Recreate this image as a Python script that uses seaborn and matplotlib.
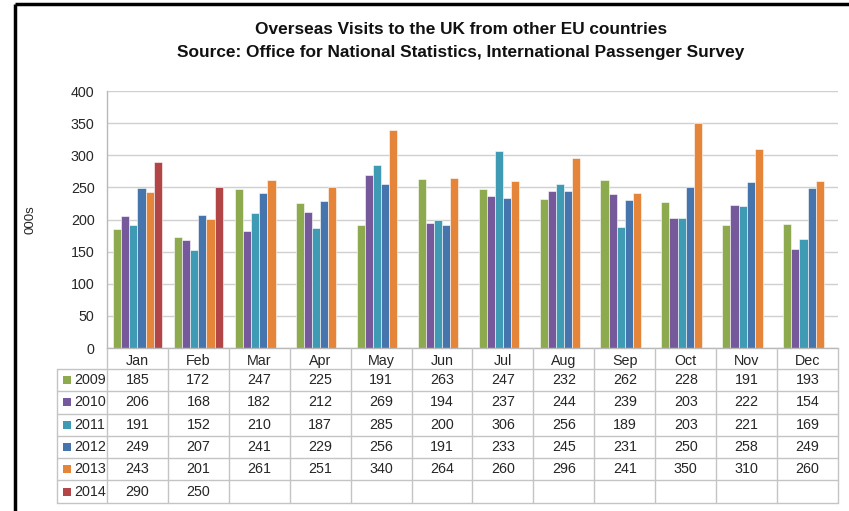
import matplotlib
matplotlib.use("Agg")
import matplotlib.pyplot as plt
import seaborn as sns
import pandas as pd
import numpy as np
from matplotlib.patches import Rectangle

months = ["Jan", "Feb", "Mar", "Apr", "May", "Jun", "Jul", "Aug", "Sep", "Oct", "Nov", "Dec"]
years = ["2009", "2010", "2011", "2012", "2013", "2014"]
v2009 = [185, 172, 247, 225, 191, 263, 247, 232, 262, 228, 191, 193]
v2010 = [206, 168, 182, 212, 269, 194, 237, 244, 239, 203, 222, 154]
v2011 = [191, 152, 210, 187, 285, 200, 306, 256, 189, 203, 221, 169]
v2012 = [249, 207, 241, 229, 256, 191, 233, 245, 231, 250, 258, 249]
v2013 = [243, 201, 261, 251, 340, 264, 260, 296, 241, 350, 310, 260]
v2014 = [290, 250] + [np.nan] * 10
yticks = [0, 50, 100, 150, 200, 250, 300, 350, 400]

colors = ["#8DAA4E", "#76599A", "#3F9AB3", "#4675AE", "#E5853A", "#B24545"]
series = [v2009, v2010, v2011, v2012, v2013, v2014]

rows = []
for yr, vals in zip(years, series):
    for m, v in zip(months, vals):
        rows.append({"month": m, "year": yr, "value": v})
df = pd.DataFrame(rows)

sns.set_theme(style="white")
plt.rcParams['font.family'] = ['Liberation Sans Narrow', 'Liberation Sans', 'DejaVu Sans']

FS = 10.3
TC = "#262626"

W, H = 849, 511
fig = plt.figure(figsize=(W / 100, H / 100), dpi=100)
fig.patch.set_facecolor("white")

def fx(x):
    return x / W

def fy(y):
    return 1 - y / H

ax_l, ax_r, ax_t, ax_b = 107, 838, 91, 348
ax = fig.add_axes([fx(ax_l), fy(ax_b), fx(ax_r) - fx(ax_l), fy(ax_t) - fy(ax_b)])
sns.barplot(data=df, x="month", y="value", hue="year", order=months, hue_order=years,
            palette=colors, width=0.8, ax=ax, legend=False, edgecolor="white",
            linewidth=0.4, saturation=1)
ax.set_ylim(0, 400)
ax.set_xlim(-0.5, 11.5)
ax.set_yticks(yticks)
ax.set_yticklabels([str(t) for t in yticks], fontsize=FS, color=TC)
ax.yaxis.grid(True, color="#D0D0D0", lw=1)
ax.set_axisbelow(True)
for s in ["top", "right"]:
    ax.spines[s].set_visible(False)
for s in ["left", "bottom"]:
    ax.spines[s].set_color("#B8B8B8")
    ax.spines[s].set_linewidth(1)
ax.tick_params(axis="y", length=4, color="#B8B8B8", pad=5)
ax.tick_params(axis="x", length=0, pad=4, labelsize=FS, labelcolor=TC)
ax.set_xlabel("")
ax.set_ylabel("")
ax.set_facecolor("white")

# overlay in pixel coordinates
ov = fig.add_axes([0, 0, 1, 1])
ov.set_xlim(0, W)
ov.set_ylim(H, 0)
ov.axis("off")
ov.patch.set_visible(False)

line_c = "#C4C4C4"
col_w = (ax_r - ax_l) / 12
row_top = 369
row_h = 22.3
leg_l = 57
n_rows = len(years)
tbl_bottom = row_top + row_h * n_rows

# vertical lines
for j in range(13):
    x = ax_l + col_w * j
    ov.plot([x, x], [ax_b, tbl_bottom], color=line_c, lw=1)
ov.plot([leg_l, leg_l], [row_top, tbl_bottom], color=line_c, lw=1)
# horizontal lines
for i in range(n_rows + 1):
    y = row_top + row_h * i
    ov.plot([leg_l, ax_r], [y, y], color=line_c, lw=1)

# cell values
for i, (yr, vals) in enumerate(zip(years, series)):
    cy = row_top + row_h * (i + 0.5)
    ov.add_patch(Rectangle((63, cy - 4), 8, 8, color=colors[i], lw=0))
    ov.text(74, cy, yr, ha="left", va="center", fontsize=FS, color=TC)
    for j, v in enumerate(vals):
        if not np.isnan(v):
            ov.text(ax_l + col_w * (j + 0.5), cy, str(int(v)), ha="center", va="center",
                    fontsize=FS, color=TC)

# titles
ov.text(461, 30, "Overseas Visits to the UK from other EU countries", ha="center", va="center",
        fontsize=12.4, fontweight="bold", color="#111111")
ov.text(461, 53, "Source: Office for National Statistics, International Passenger Survey",
        ha="center", va="center", fontsize=12.4, fontweight="bold", color="#111111")
ov.text(31, 220, "000s", ha="center", va="center", rotation=90, fontsize=9.5, color=TC)

# outer frame (top and left)
ov.plot([15, W], [4, 4], color="black", lw=2.5, solid_capstyle="butt")
ov.plot([15, 15], [4, H], color="black", lw=2.5, solid_capstyle="butt")

fig.savefig("out.png", dpi=100, facecolor="white")
